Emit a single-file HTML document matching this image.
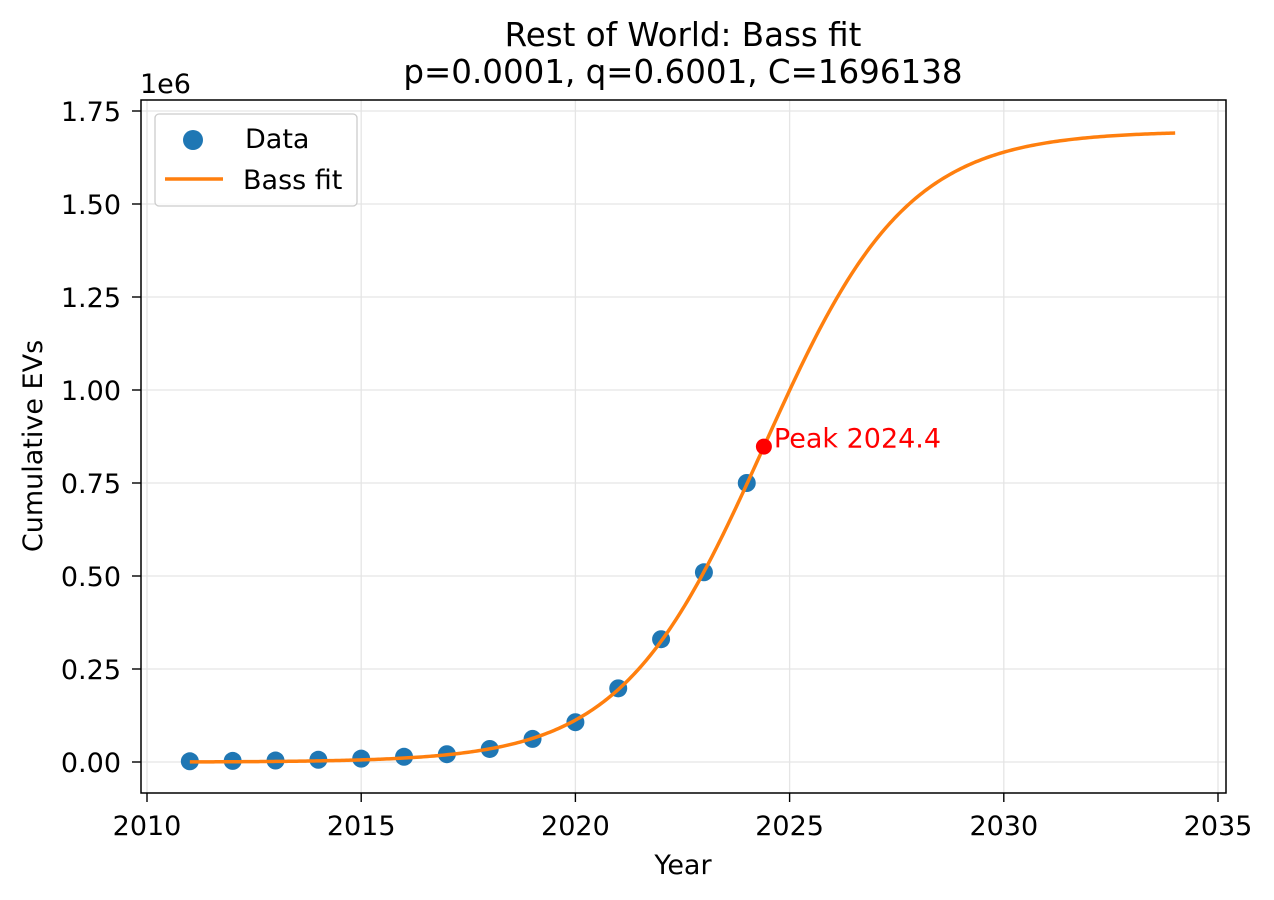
<!DOCTYPE html>
<html><head><meta charset="utf-8"><style>
body{margin:0;background:#fff;}
svg{display:block;font-family:"DejaVu Sans","Liberation Sans",sans-serif;}
</style></head><body>
<svg id="chart" width="1274" height="900" viewBox="0 0 1274 900">
<text x="683" y="46" font-size="32.5" text-anchor="middle">Rest of World: Bass fit</text>
<text x="683" y="83" font-size="32.5" text-anchor="middle">p=0.0001, q=0.6001, C=1696138</text>
<g id="grid"></g>
<g id="xticks"></g>
<g id="yticks"></g>
<text x="140" y="93" font-size="27">1e6</text>
<text x="683" y="874" font-size="27" text-anchor="middle">Year</text>
<text transform="translate(42,446) rotate(-90)" font-size="27" text-anchor="middle">Cumulative EVs</text>
<g id="marks"></g>
<rect x="141" y="100" width="1085" height="693" fill="none" stroke="#000" stroke-width="1.5"/>
<g>
<rect x="155" y="114" width="202" height="92" rx="4" fill="#fff" fill-opacity="0.8" stroke="#ccc" stroke-width="1.3"/>
<circle cx="193" cy="140" r="10" fill="#1f77b4"/>
<text x="245" y="148" font-size="27">Data</text>
<line x1="165" y1="179" x2="223" y2="179" stroke="#ff7f0e" stroke-width="3.5"/>
<text x="243" y="189" font-size="27">Bass fit</text>
</g>
</svg>
<script>
const years=[2011,2012,2013,2014,2015,2016,2017,2018,2019,2020,2021,2022,2023,2024];
const values=[2000,3000,4000,6000,9000,14000,21000,35000,62000,107000,198000,330000,510000,750000];
const params={p:0.0001,q:0.6001,C:1696138};
const peakYear=2024.4;
const xTicks=[2010,2015,2020,2025,2030,2035];
const yTicks=[0,0.25,0.5,0.75,1.0,1.25,1.5,1.75];
const yTickLabels=["0.00","0.25","0.50","0.75","1.00","1.25","1.50","1.75"];
const X=v=>147+(v-2010)*42.84;
const Y=v=>762-v/1e6*372;
const NS="http://www.w3.org/2000/svg";
function mk(tag,attrs,parent){const e=document.createElementNS(NS,tag);for(const k in attrs)e.setAttribute(k,attrs[k]);document.getElementById(parent).appendChild(e);return e;}
xTicks.forEach(t=>{
 const g=mk('line',{x1:X(t),x2:X(t),y1:100,y2:793,stroke:'#e5e5e5','stroke-width':1.3},'grid');
 
 
 const l=mk('line',{x1:X(t),x2:X(t),y1:793,y2:802,stroke:'#000','stroke-width':1.4},'xticks');
 
 
 const tx=mk('text',{x:X(t),y:835,'font-size':27,'text-anchor':'middle'},'xticks');
 tx.textContent=t;
 
 
});
yTicks.forEach((t,i)=>{
 const g=mk('line',{x1:141,x2:1226,y1:Y(t*1e6),y2:Y(t*1e6),stroke:'#e5e5e5','stroke-width':1.3},'grid');
 
 
 const l=mk('line',{x1:132,x2:141,y1:Y(t*1e6),y2:Y(t*1e6),stroke:'#000','stroke-width':1.4},'yticks');
 
 
 const tx=mk('text',{x:121,y:Y(t*1e6)+10,'font-size':27,'text-anchor':'end'},'yticks');
 tx.textContent=yTickLabels[i];
 
 
});
years.forEach((yr,i)=>{
 const c=mk('circle',{cx:X(yr),cy:Y(values[i]),r:9,fill:'#1f77b4'},'marks');
 
 
});
const {p,q,C}=params;
const t0=peakYear-Math.log(q/p)/(p+q);
const F=yr=>{const t=yr-t0;const e=Math.exp(-(p+q)*t);return C*(1-e)/(1+(q/p)*e);};
let d='';
for(let yr=2011;yr<=2034.0001;yr+=0.05){d+=(d?'L':'M')+X(yr).toFixed(2)+','+Y(F(yr)).toFixed(2);}
const path=mk('path',{d:d,fill:'none',stroke:'#ff7f0e','stroke-width':3.5},'marks');


const pk=mk('circle',{cx:X(peakYear),cy:Y(F(peakYear)),r:8,fill:'#ff0000'},'marks');


const pt=mk('text',{x:X(peakYear)+10,y:Y(F(peakYear))+1,'font-size':27,fill:'#ff0000'},'marks');
pt.textContent='Peak '+peakYear.toFixed(1);


</script>
</body></html>
